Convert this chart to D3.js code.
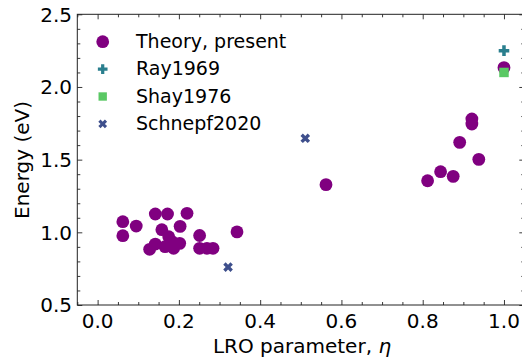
<!DOCTYPE html>
<html>
<head>
<meta charset="utf-8">
<script src="https://cdn.jsdelivr.net/npm/d3@7"></script>
<style>
  html, body { margin: 0; padding: 0; background: #fff; }
  svg { display: block; font-family: "DejaVu Sans", sans-serif; }
</style>
</head>
<body>
<svg id="chart" width="522" height="361"></svg>
<script>
// Theory, present: LRO parameter (eta) and energy (eV)
const theoryEta = [0.062, 0.062, 0.095, 0.142, 0.172, 0.220, 0.158, 0.203, 0.251, 0.343,
                   0.128, 0.142, 0.175, 0.187, 0.202, 0.166, 0.183, 0.251, 0.269, 0.284,
                   0.562, 0.812, 0.844, 0.875, 0.891, 0.921, 0.921, 0.938, 1.000];
const theoryE   = [1.073, 0.977, 1.043, 1.126, 1.126, 1.131, 1.018, 1.041, 0.978, 1.003,
                   0.883, 0.919, 0.970, 0.890, 0.924, 0.901, 0.936, 0.890, 0.890, 0.890,
                   1.328, 1.355, 1.417, 1.385, 1.619, 1.780, 1.745, 1.502, 2.133];
// Experimental references
const rayEta = [1.0];      const rayE = [2.25];
const shayEta = [1.0];     const shayE = [2.10];
const schnepfEta = [0.511, 0.321]; const schnepfE = [1.647, 0.761];

const xTicks = [0.0, 0.2, 0.4, 0.6, 0.8, 1.0];
const yTicks = [0.5, 1.0, 1.5, 2.0, 2.5];
const seriesNames = ["Theory, present", "Ray1969", "Shay1976", "Schnepf2020"];
const seriesColors = ["#800080", "#2a7f8e", "#5ac864", "#3e4f8c"];

const svg = d3.select("#chart");
const plotLeft = 77.3, plotRight = 524.3, plotTop = 14.3, plotBottom = 305;
const x = d3.scaleLinear().domain([-0.05, 1.05]).range([plotLeft, plotRight]);
const y = d3.scaleLinear().domain([0.5, 2.5]).range([plotBottom, plotTop]);

const minorX = d3.range(-0.05, 1.0501, 0.05).map(v => +v.toFixed(2)).filter(v => !xTicks.some(t => Math.abs(t - v) < 1e-6));
const minorY = d3.range(0.5, 2.5001, 0.1).map(v => +v.toFixed(2)).filter(v => !yTicks.some(t => Math.abs(t - v) < 1e-6));

const axisColor = "#222";
const g = svg.append("g");

// inward ticks on all four sides
function ticksOn(axisFn, scale, vals, len, transform) {
  const a = axisFn(scale).tickValues(vals).tickSize(-len).tickFormat("");
  const sel = g.append("g").attr("transform", transform).call(a);
  sel.select(".domain").remove();
  sel.selectAll("line").attr("stroke", axisColor).attr("stroke-width", 0.9);
}
ticksOn(d3.axisBottom, x, xTicks, 5, `translate(0,${plotBottom})`);
ticksOn(d3.axisBottom, x, minorX, 3, `translate(0,${plotBottom})`);
ticksOn(d3.axisTop, x, xTicks, 5, `translate(0,${plotTop})`);
ticksOn(d3.axisTop, x, minorX, 3, `translate(0,${plotTop})`);
ticksOn(d3.axisLeft, y, yTicks, 5, `translate(${plotLeft},0)`);
ticksOn(d3.axisLeft, y, minorY, 3, `translate(${plotLeft},0)`);
ticksOn(d3.axisRight, y, yTicks, 5, `translate(${plotRight},0)`);
ticksOn(d3.axisRight, y, minorY, 3, `translate(${plotRight},0)`);

// frame
g.append("rect").attr("x", plotLeft).attr("y", plotTop)
  .attr("width", plotRight - plotLeft).attr("height", plotBottom - plotTop)
  .attr("fill", "none").attr("stroke", axisColor).attr("stroke-width", 1);

// tick labels
g.selectAll(".xl").data(xTicks).join("text")
  .attr("x", d => x(d)).attr("y", 328)
  .attr("text-anchor", "middle").attr("font-size", 20).attr("fill", "#000")
  .text(d => d3.format(".1f")(d));
g.selectAll(".yl").data(yTicks).join("text")
  .attr("x", 72).attr("y", d => y(d) + 7.2)
  .attr("text-anchor", "end").attr("font-size", 20).attr("fill", "#000")
  .text(d => d3.format(".1f")(d));

// axis titles
const xt = g.append("text").attr("x", 302).attr("y", 353)
  .attr("text-anchor", "middle").attr("font-size", 20).attr("fill", "#000");
xt.append("tspan").text("LRO parameter, ");
xt.append("tspan").attr("font-style", "italic").text("η");
g.append("text").attr("transform", "translate(29,160) rotate(-90)")
  .attr("text-anchor", "middle").attr("font-size", 20).attr("fill", "#000")
  .text("Energy (eV)");

// marker shapes
const circleSym = d3.symbol().type(d3.symbolCircle).size(Math.PI * 6.4 * 6.4);
const plusSym = d3.symbol().type(d3.symbolCross).size(62);
const squareSym = d3.symbol().type(d3.symbolSquare).size(90);
const xSym = d3.symbol().type(d3.symbolCross).size(58);

const plot = g.append("g");
plot.selectAll(".th").data(d3.zip(theoryEta, theoryE)).join("path")
  .attr("d", circleSym).attr("fill", seriesColors[0])
  .attr("transform", d => `translate(${x(d[0])},${y(d[1])})`);
plot.selectAll(".ray").data(d3.zip(rayEta, rayE)).join("path")
  .attr("d", plusSym).attr("fill", seriesColors[1])
  .attr("transform", d => `translate(${x(d[0])},${y(d[1])})`);
plot.selectAll(".shay").data(d3.zip(shayEta, shayE)).join("path")
  .attr("d", squareSym).attr("fill", seriesColors[2])
  .attr("transform", d => `translate(${x(d[0])},${y(d[1])})`);
plot.selectAll(".sch").data(d3.zip(schnepfEta, schnepfE)).join("path")
  .attr("d", xSym).attr("fill", seriesColors[3])
  .attr("transform", d => `translate(${x(d[0])},${y(d[1])}) rotate(45)`);

// legend
const legendSyms = [circleSym, d3.symbol().type(d3.symbolCross).size(52),
                    d3.symbol().type(d3.symbolSquare).size(70), d3.symbol().type(d3.symbolCross).size(48)];
const leg = g.append("g");
seriesNames.forEach((name, i) => {
  const cy = 41.7 + i * 27.4;
  leg.append("path").attr("d", legendSyms[i]).attr("fill", seriesColors[i])
    .attr("transform", `translate(102.7,${cy})` + (i === 3 ? " rotate(45)" : ""));
  leg.append("text").attr("x", 136).attr("y", cy + 6.3)
    .attr("font-size", 19).attr("fill", "#000").text(name);
});
</script>
</body>
</html>
